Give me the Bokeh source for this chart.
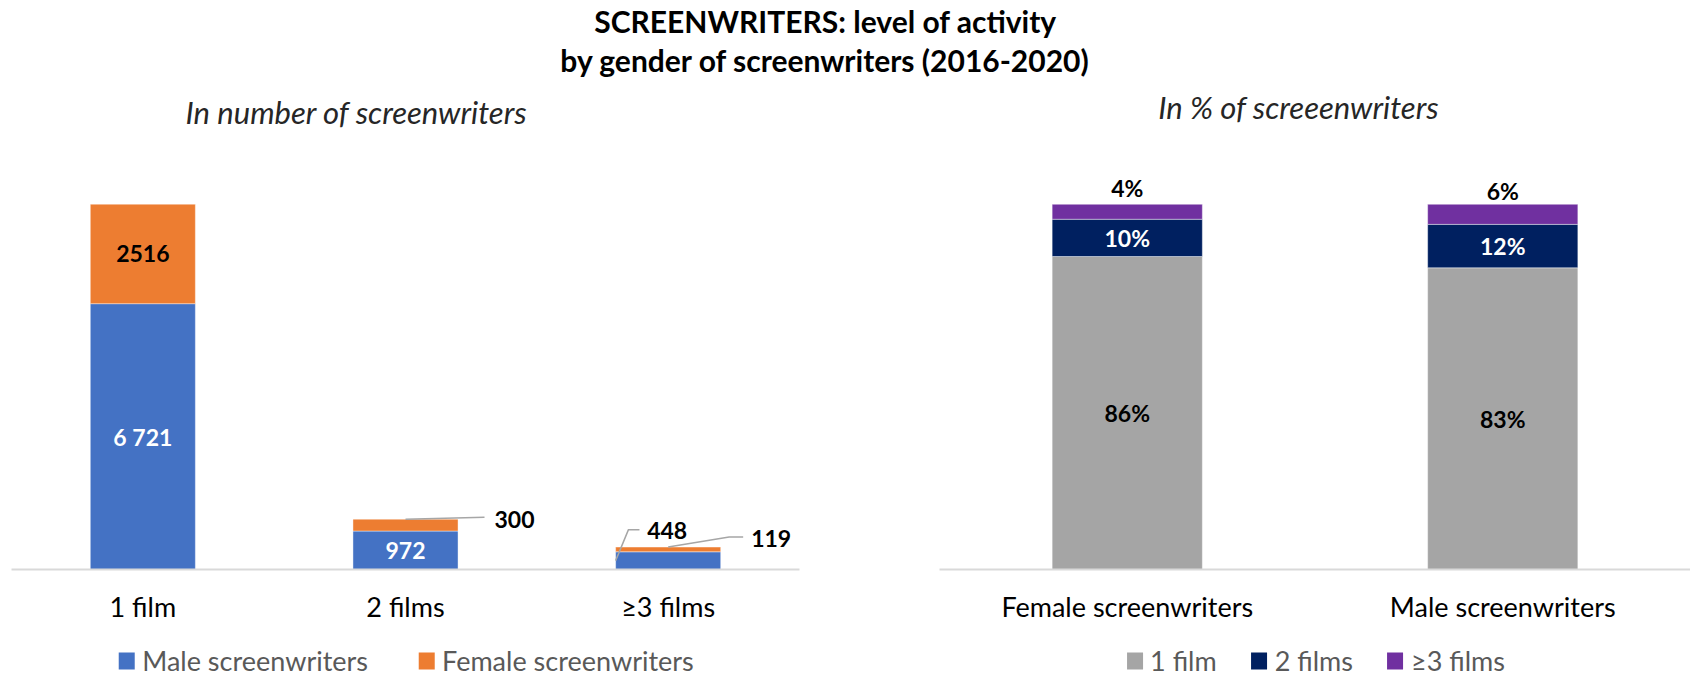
from bokeh.plotting import figure
from bokeh.models import ColumnDataSource, FactorRange, Range1d, Legend, LegendItem
from bokeh.layouts import column, row
from bokeh.embed import file_html
from bokeh.resources import INLINE
from bokeh.core.properties import value

# ---------------- data ----------------
film_categories = ["1 film", "2 films", "≥3 films"]
male_counts = [6721, 972, 448]
female_counts = [2516, 300, 119]
male_labels = ["6 721", "972", "448"]
female_labels = ["2516", "300", "119"]

gender_groups = ["Female screenwriters", "Male screenwriters"]
share_1_film = [85.7, 82.6]
share_2_films = [10.2, 11.9]
share_3plus = [4.1, 5.5]
share_1_labels = ["86%", "83%"]
share_2_labels = ["10%", "12%"]
share_3_labels = ["4%", "6%"]

title_lines = ["SCREENWRITERS: level of activity", "by gender of screenwriters (2016-2020)"]
subtitle_left = "In number of screenwriters"
subtitle_right = "In % of screeenwriters"
legend_left = ["Male screenwriters", "Female screenwriters"]
legend_right = ["1 film", "2 films", "≥3 films"]

# ---------------- style ----------------
FONT = "Lato"
BLUE, ORANGE = "#4472C4", "#ED7D31"
GRAY, NAVY, PURPLE = "#A5A5A5", "#002060", "#7030A0"
AXIS_GRAY = "#D9D9D9"
LEADER = "#A6A6A6"
LABEL_SIZE = "23px"
TICK_SIZE = "27px"
LEG_SIZE = "27px"

TOTAL_W = 1690
HEADER_H = 130
FRAME_H = 439
BOTTOM = 58
FIG_H = FRAME_H + BOTTOM
FOOT_H = 50
P1_W = 880
P2_W = TOTAL_W - P1_W
P1_LEFT, P1_FRAME_W = 11, 788
P2_LEFT = 59
Y1_MAX = 11100
Y2_MAX = 120.2

# ---------------- header ----------------
hdr = figure(width=TOTAL_W, height=HEADER_H, x_range=Range1d(0, TOTAL_W), y_range=Range1d(HEADER_H, 0),
             toolbar_location=None, output_backend="svg", x_axis_location=None, y_axis_location=None,
             min_border=0, outline_line_color=None)
hdr.grid.visible = False
hdr.text(x=[825, 825], y=[20, 59], text=title_lines, text_font=value(FONT), text_font_style="bold",
         text_font_size="30px", text_align="center", text_baseline="middle", text_color="black")
hdr.text(x=[356, 1298], y=[111, 106], text=[subtitle_left, subtitle_right], text_font=value(FONT),
         text_font_style="italic", text_font_size="31px", text_align="center", text_baseline="middle",
         text_color="#262626")


def style_axes(p):
    p.grid.visible = False
    p.outline_line_color = None
    ax = p.xaxis[0]
    ax.axis_line_color = AXIS_GRAY
    ax.axis_line_width = 2
    ax.major_tick_line_color = None
    ax.minor_tick_line_color = None
    ax.major_tick_out = 0
    ax.major_tick_in = 0
    ax.major_label_standoff = 20
    ax.major_label_text_font = FONT
    ax.major_label_text_font_size = TICK_SIZE
    ax.major_label_text_color = "black"


# ---------------- left chart ----------------
p1 = figure(width=P1_W, height=FIG_H, x_range=FactorRange(*film_categories), y_range=Range1d(0, Y1_MAX),
            toolbar_location=None, output_backend="svg", y_axis_location=None,
            min_border_left=P1_LEFT, min_border_right=P1_W - P1_LEFT - P1_FRAME_W,
            min_border_top=0, min_border_bottom=BOTTOM)
style_axes(p1)
src1 = ColumnDataSource(dict(cat=film_categories, male=male_counts, female=female_counts))
p1.vbar_stack(["male", "female"], x="cat", width=0.4, color=[BLUE, ORANGE], source=src1,
              line_color="white", line_width=0.6, line_alpha=0.7)

cat_px = P1_FRAME_W / len(film_categories)
y1_px = FRAME_H / Y1_MAX

# labels inside the bars
in_x, in_y, in_t, in_c = [], [], [], []
for i in range(2):
    in_x.append(film_categories[i]); in_y.append(male_counts[i] / 2); in_t.append(male_labels[i]); in_c.append("white")
in_x.append(film_categories[0]); in_y.append(male_counts[0] + female_counts[0] / 2)
in_t.append(female_labels[0]); in_c.append("black")
p1.text(x=in_x, y=in_y, text=in_t, text_color=in_c, text_font=value(FONT), text_font_style="bold",
        text_font_size=LABEL_SIZE, text_align="center", text_baseline="middle")

# labels outside with leader lines: (index, anchor value, text, label dx, label dy, leader points px)
outside = [
    (1, male_counts[1] + female_counts[1], female_labels[1], 89, 0, [(0, 0), (79, -2)]),
    (2, male_counts[2] / 2, male_labels[2], -21, -30, [(-52.5, 0), (-39.7, -31), (-28.7, -31)]),
    (2, male_counts[2] + female_counts[2], female_labels[2], 83, -9, [(0, 0), (61, -10), (75, -10)]),
]
lx, ly = [], []
for idx, yv, txt, dx, dy, pts in outside:
    lx.append([idx + 0.5 + px / cat_px for px, _ in pts])
    ly.append([yv - py / y1_px for _, py in pts])
    p1.text(x=[film_categories[idx]], y=[yv], text=[txt], x_offset=dx, y_offset=dy, text_color="black",
            text_font=value(FONT), text_font_style="bold", text_font_size=LABEL_SIZE,
            text_align="left", text_baseline="middle")
p1.multi_line(xs=lx, ys=ly, line_color=LEADER, line_width=1.5)

# ---------------- right chart ----------------
p2 = figure(width=P2_W, height=FIG_H, x_range=FactorRange(*gender_groups), y_range=Range1d(0, Y2_MAX),
            toolbar_location=None, output_backend="svg", y_axis_location=None,
            min_border_left=P2_LEFT, min_border_right=0, min_border_top=0, min_border_bottom=BOTTOM)
style_axes(p2)
src2 = ColumnDataSource(dict(grp=gender_groups, s1=share_1_film, s2=share_2_films, s3=share_3plus))
p2.vbar_stack(["s1", "s2", "s3"], x="grp", width=0.4, color=[GRAY, NAVY, PURPLE], source=src2,
              line_color="white", line_width=0.6, line_alpha=0.7)

lab_x, lab_y, lab_t, lab_c, lab_off = [], [], [], [], []
top_offsets = [-16, -13]
for i, g in enumerate(gender_groups):
    lab_x += [g, g, g]
    lab_y += [share_1_film[i] / 2, share_1_film[i] + share_2_films[i] / 2,
              share_1_film[i] + share_2_films[i] + share_3plus[i]]
    lab_t += [share_1_labels[i], share_2_labels[i], share_3_labels[i]]
    lab_c += ["black", "white", "black"]
    lab_off += [0, 0, top_offsets[i]]
src2l = ColumnDataSource(dict(x=lab_x, y=lab_y, t=lab_t, c=lab_c, o=lab_off))
p2.text(x="x", y="y", text="t", text_color="c", y_offset="o", source=src2l, text_font=value(FONT),
        text_font_style="bold", text_font_size=LABEL_SIZE, text_align="center", text_baseline="middle")


# ---------------- legends (footer row) ----------------
def footer(width, left, right, colors, labels, spacing):
    f = figure(width=width, height=FOOT_H, x_range=Range1d(0, 1), y_range=Range1d(0, 1),
               toolbar_location=None, output_backend="svg", x_axis_location=None, y_axis_location=None,
               min_border_left=left, min_border_right=right, min_border_top=0, min_border_bottom=0)
    f.grid.visible = False
    f.outline_line_color = None
    items = []
    for c, lab in zip(colors, labels):
        # zero-height proxy bar: only provides the legend swatch
        r = f.vbar(x=[0.5], top=[0], bottom=[0], width=0.01, fill_color=c, line_color=c, line_alpha=0)
        items.append(LegendItem(label=lab, renderers=[r]))
    leg = Legend(items=items, orientation="horizontal", location="bottom_center", glyph_width=20,
                 glyph_height=21, label_standoff=6, spacing=spacing, padding=0, margin=0,
                 border_line_color=None, background_fill_alpha=0, label_text_font=FONT,
                 label_text_font_size=LEG_SIZE, label_text_color="#595959")
    f.add_layout(leg, "center")
    return f


f1 = footer(P1_W, P1_LEFT, P1_W - P1_LEFT - P1_FRAME_W, [BLUE, ORANGE], legend_left, 48)
f2 = footer(P2_W, P2_LEFT, 0, [GRAY, NAVY, PURPLE], legend_right, 32)

layout = column(hdr, row(p1, p2), row(f1, f2))
open("out.html", "w").write(file_html(layout, INLINE))
